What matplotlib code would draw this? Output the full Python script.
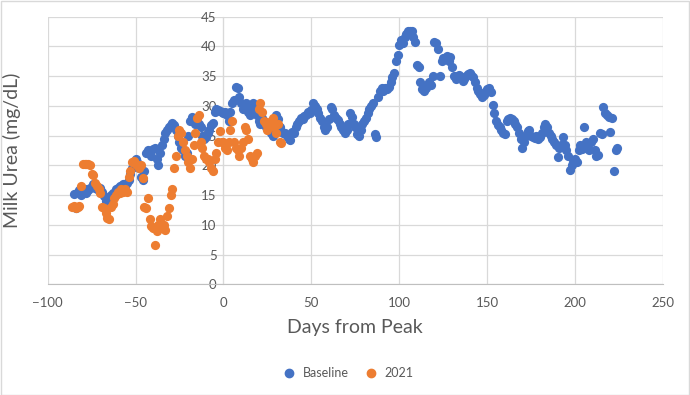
import matplotlib.pyplot as plt
from matplotlib.patches import Rectangle
from matplotlib.lines import Line2D

# milk urea vs days from peak, baseline herd and 2021 herd
baseline_days = list(range(-85, 225))
baseline_urea = [
    15.2, 12.8, 15.5, 15.8, 15.0, 15.5, 16.0, 15.3, 15.8, 16.2, 16.3, 16.8, 16.2, 16.0, 15.8, 16.2,
    15.5, 14.8, 14.0, 14.2, 13.6, 15.0, 15.3, 15.0, 16.0, 16.2, 16.5, 16.5, 16.8, 16.5, 17.0,
    17.5, 18.5, 19.5, 20.5, 21.0, 20.5, 19.5, 18.0, 17.5, 19.0, 22.0, 22.5, 22.0, 21.5, 22.8,
    23.0, 21.0, 20.0, 22.0, 23.5, 24.5, 25.5, 26.0, 26.5, 26.8, 27.2, 26.8, 26.0, 25.0, 24.0,
    23.0, 22.5, 21.5, 22.0, 25.0, 27.5, 28.2, 27.5, 27.0, 28.0, 27.0, 26.5, 25.0, 24.5, 24.8,
    25.5, 26.0, 26.8, 27.2, 29.0, 29.5, 29.3, 29.2, 29.0, 28.8, 29.0, 28.5, 27.5, 29.0, 30.5,
    31.0, 33.2, 33.0, 31.5, 30.5, 29.5, 30.0, 30.5, 29.0, 28.5, 29.5, 30.5, 29.8, 28.5, 27.5,
    27.0, 28.0, 27.5, 26.5, 27.0, 26.0, 25.5, 25.0, 25.5, 28.5, 27.8, 26.5, 25.8, 25.5, 25.5,
    25.0, 24.5, 24.3, 25.6, 25.5, 26.5, 27.0, 27.5, 28.0, 27.8, 28.3, 28.5, 29.0, 28.8, 29.3,
    30.5, 30.0, 29.5, 28.8, 28.0, 27.5, 26.5, 26.0, 26.5, 27.8, 29.8, 29.5, 28.5, 28.0, 27.6,
    27.0, 26.5, 26.0, 25.5, 26.0, 27.0, 28.8, 28.2, 27.0, 26.5, 25.2, 25.0, 26.0, 27.0, 27.5,
    28.0, 28.8, 29.5, 30.0, 30.5, 25.2, 24.8, 31.5, 32.5, 33.0, 32.5, 33.0, 32.8, 33.2, 34.0,
    34.8, 35.5, 37.5, 38.5, 40.2, 41.0, 40.5, 41.5, 42.0, 42.5, 42.6, 42.5, 41.5, 40.8, 36.8,
    36.5, 34.0, 32.8, 32.5, 33.0, 33.5, 34.0, 33.5, 35.0, 40.8, 40.5, 39.5, 35.0, 37.5, 38.0,
    37.8, 38.3, 37.5, 38.2, 36.5, 35.0, 34.5, 35.0, 35.2, 34.8, 34.2, 34.5, 35.0, 35.3, 35.5,
    35.2, 34.8, 34.0, 33.0, 32.5, 32.0, 31.5, 31.8, 32.3, 32.8, 33.0, 32.4, 30.2, 28.8, 27.5,
    26.8, 26.5, 26.0, 25.5, 25.3, 27.5, 27.8, 28.0, 27.8, 27.5, 27.0, 26.5, 25.5, 24.5, 22.9,
    24.0, 25.0, 25.8, 26.0, 25.0, 24.8, 24.6, 25.0, 24.5, 24.8, 25.5, 26.5, 27.0, 26.5, 25.5,
    25.0, 24.5, 24.0, 23.5, 21.4, 23.0, 23.5, 24.8, 23.5, 22.5, 21.5, 19.2, 20.0, 20.5, 21.0,
    20.5, 22.5, 23.5, 22.8, 26.5, 24.0, 23.0, 22.5, 24.0, 24.5, 22.5, 21.5, 21.8, 25.5, 25.2,
    29.8, 28.8, 28.5, 28.2, 25.6, 28.0, 19.0, 22.5, 23.0,
]

y2021_days = list(range(-86, 34))
y2021_urea = [
    13.0, 13.2, 12.8, 13.0, 13.1, 16.5, 20.2, 20.3, 20.2, 20.2, 20.0, 18.5, 18.3, 17.0, 16.5,
    16.0, 15.3, 13.0, 12.8, 12.0, 11.2, 11.0, 13.0, 13.5, 14.5, 15.0, 15.5, 15.3, 16.0, 15.5,
    16.0, 15.5, 18.0, 19.0, 20.5, 20.8, 20.2, 20.0, 19.5, 20.0, 17.8, 13.0, 12.8, 14.5, 11.0,
    9.8, 9.5, 6.6, 9.0, 10.0, 11.0, 9.5, 10.0, 9.2, 11.5, 12.8, 15.0, 16.0, 19.5, 21.5,
    25.0, 26.0, 25.5, 24.0, 22.5, 21.5, 20.5, 19.5, 21.0, 23.5, 25.5, 28.0, 28.5, 24.0, 23.0,
    21.5, 21.0, 21.0, 20.5, 19.5, 19.0, 21.0, 22.0, 24.0, 25.8, 24.0, 24.0, 23.0, 22.5, 24.0,
    26.0, 27.5, 24.0, 23.0, 22.5, 21.5, 23.0, 24.0, 26.5, 26.0, 24.5, 21.5, 21.0, 20.5, 21.5,
    22.0, 29.5, 30.5, 29.0, 27.5, 27.0, 26.0, 26.5, 27.5, 28.0, 26.5, 25.5, 27.0, 24.0, 23.8,
]

blue = '#4472C4'
orange = '#ED7D31'
grey_text = '#595959'

plt.rcParams['font.family'] = ['Lato', 'DejaVu Sans']

fig = plt.figure(figsize=(6.9, 3.95), dpi=100)
ax = fig.add_axes([0.069, 0.280, 0.892, 0.678])

ax.scatter(baseline_days, baseline_urea, s=44, color=blue, zorder=3, linewidths=0)
ax.scatter(y2021_days, y2021_urea, s=44, color=orange, zorder=4, linewidths=0)

ax.set_xlim(-100, 250)
ax.set_ylim(0, 45)
ax.set_xticks(range(-100, 251, 50))
ax.set_yticks(range(0, 46, 5))
ax.grid(True, color='#D9D9D9', linewidth=0.9, zorder=0)
ax.set_axisbelow(True)

# excel style: vertical axis sits at x = 0
for side in ['top', 'right']:
    ax.spines[side].set_visible(False)
ax.spines['left'].set_position(('data', 0))
ax.spines['left'].set_color('#D9D9D9')
ax.spines['bottom'].set_color('#BFBFBF')
ax.tick_params(axis='both', length=0, colors=grey_text, labelsize=9.5)
ax.tick_params(axis='y', pad=5)
ax.tick_params(axis='x', pad=9)

ax.set_xlabel('Days from Peak', fontsize=14, color=grey_text, labelpad=7)
fig.text(0.018, 0.62, 'Milk Urea (mg/dL)', rotation=90, fontsize=14,
         color=grey_text, ha='center', va='center')

handles = [Line2D([], [], marker='o', linestyle='', color=blue, markersize=6),
           Line2D([], [], marker='o', linestyle='', color=orange, markersize=6)]
fig.legend(handles, ['Baseline', '2021'], loc='center', bbox_to_anchor=(0.5, 0.056),
           ncol=2, frameon=False, fontsize=9, handletextpad=0.1, columnspacing=0.8,
           labelcolor=grey_text)

# thin chart-area border
fig.patches.append(Rectangle((0.001, 0.001), 0.998, 0.997, transform=fig.transFigure,
                             fill=False, edgecolor='#D9D9D9', linewidth=1))

plt.savefig('out.png')
